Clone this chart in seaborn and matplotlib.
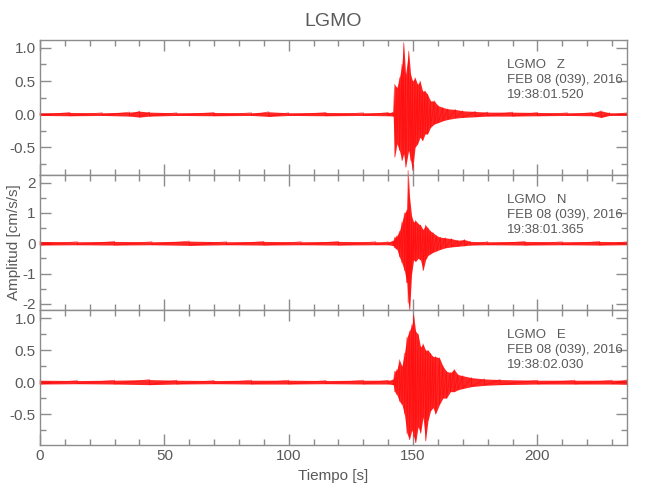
import numpy as np
import pandas as pd
import matplotlib
matplotlib.use("Agg")
import matplotlib.pyplot as plt
from matplotlib.ticker import MultipleLocator, FormatStrFormatter
import seaborn as sns

# Envelope of each trace (time in s, peak up / peak down)
z_t = [0, 12, 25, 36, 40, 44, 55, 70, 85, 92, 100, 115, 130, 140, 142.0, 142.6, 143.5, 144.5,
       145.5, 146.2, 147.0, 148.2, 149.0, 149.8, 150.8, 151.8, 152.8, 153.8, 154.8, 155.8,
       157.0, 158.5, 160.0, 162.0, 164.0, 167.0, 170.0, 175.0, 180.0, 190.0, 200.0, 212.0,
       222.0, 225.6, 229.0, 236.0]
z_up = [0.02, 0.025, 0.02, 0.03, 0.045, 0.03, 0.02, 0.025, 0.02, 0.035, 0.02, 0.025, 0.02,
        0.025, 0.03, 0.45, 0.4, 0.55, 0.75, 1.08, 0.6, 0.95, 0.6, 0.5, 0.55, 0.45, 0.5, 0.35,
        0.35, 0.3, 0.2, 0.2, 0.13, 0.1, 0.08, 0.07, 0.05, 0.04, 0.03, 0.03, 0.025, 0.02,
        0.025, 0.05, 0.02, 0.02]
z_lo = [-0.02, -0.025, -0.02, -0.03, -0.045, -0.03, -0.02, -0.025, -0.02, -0.035, -0.02,
        -0.025, -0.02, -0.025, -0.03, -0.65, -0.45, -0.55, -0.7, -0.6, -0.8, -0.55, -0.7,
        -0.85, -0.5, -0.45, -0.35, -0.4, -0.3, -0.3, -0.2, -0.15, -0.13, -0.1, -0.08, -0.06,
        -0.05, -0.04, -0.03, -0.03, -0.025, -0.02, -0.025, -0.05, -0.02, -0.02]

n_t = [0, 15, 30, 45, 60, 75, 90, 105, 120, 135, 140, 142.0, 142.6, 143.5, 144.5, 145.5,
       146.5, 147.5, 148.0, 148.6, 149.4, 150.2, 151.0, 152.0, 153.0, 154.0, 155.0, 156.0,
       157.0, 158.0, 159.5, 161.0, 163.0, 165.5, 168.0, 170.7, 173.0, 180.0, 195.0, 210.0,
       225.0, 236.0]
n_up = [0.06, 0.05, 0.06, 0.05, 0.07, 0.05, 0.06, 0.05, 0.06, 0.05, 0.05, 0.08, 0.2, 0.25,
        0.4, 0.7, 1.0, 1.1, 2.4, 1.5, 0.9, 0.7, 0.75, 0.65, 0.6, 0.45, 0.6, 0.5, 0.4, 0.35,
        0.25, 0.2, 0.18, 0.15, 0.1, 0.12, 0.06, 0.05, 0.06, 0.05, 0.06, 0.05]
n_lo = [-0.06, -0.05, -0.06, -0.05, -0.07, -0.05, -0.06, -0.05, -0.06, -0.05, -0.05, -0.08,
        -0.15, -0.2, -0.45, -0.65, -0.9, -1.3, -1.95, -2.2, -1.0, -0.55, -0.6, -0.5, -0.55,
        -0.9, -0.55, -0.4, -0.35, -0.3, -0.25, -0.2, -0.15, -0.12, -0.1, -0.08, -0.06, -0.05,
        -0.06, -0.05, -0.06, -0.05]

e_t = [0, 15, 30, 44, 55, 70, 85, 100, 115, 130, 140, 142.0, 142.6, 143.5, 144.5, 145.5,
       146.5, 147.5, 148.5, 149.5, 150.2, 151.0, 152.0, 153.0, 154.0, 155.0, 156.0, 157.0,
       158.0, 159.0, 160.6, 162.0, 163.4, 165.0, 166.5, 168.0, 170.0, 173.5, 178.7, 185.0,
       200.0, 215.0, 230.0, 236.0]
e_up = [0.03, 0.025, 0.03, 0.04, 0.03, 0.025, 0.03, 0.03, 0.025, 0.03, 0.03, 0.04, 0.17, 0.2,
        0.35, 0.25, 0.45, 0.7, 0.8, 0.9, 1.05, 0.8, 0.75, 0.55, 0.6, 0.5, 0.5, 0.45, 0.4, 0.4,
        0.38, 0.25, 0.17, 0.15, 0.2, 0.12, 0.1, 0.07, 0.05, 0.04, 0.03, 0.03, 0.03, 0.035]
e_lo = [-0.03, -0.025, -0.03, -0.04, -0.03, -0.025, -0.03, -0.03, -0.025, -0.03, -0.03,
        -0.04, -0.15, -0.2, -0.3, -0.35, -0.5, -0.8, -0.9, -0.75, -0.85, -0.95, -0.7, -0.8,
        -0.55, -0.92, -0.6, -0.45, -0.4, -0.5, -0.35, -0.25, -0.25, -0.15, -0.15, -0.12,
        -0.1, -0.07, -0.05, -0.04, -0.03, -0.03, -0.03, -0.035]

components = ["Z", "N", "E"]
start_times = ["19:38:01.520", "19:38:01.365", "19:38:02.030"]
date_label = "FEB 08 (039), 2016"
station = "LGMO"
ylims = [(-0.92, 1.12), (-2.2, 2.25), (-0.985, 1.13)]

traces = [(z_t, z_up, z_lo), (n_t, n_up, n_lo), (e_t, e_up, e_lo)]

sns.set_theme(style="white")
plt.rcParams["font.family"] = ["Liberation Sans", "DejaVu Sans"]
gray = "#8c8c8c"
tgray = "#5a5a5a"

fig, axes = plt.subplots(3, 1, figsize=(6.5, 5), dpi=100, sharex=True)
fig.subplots_adjust(left=40 / 650, right=627 / 650, top=1 - 40 / 500, bottom=1 - 445 / 500,
                    hspace=0)

for i, ax in enumerate(axes):
    t, up, lo = traces[i]
    ax.fill_between(t, lo, up, color="#ff0000", alpha=0.85, lw=0, clip_on=False)
    zig = pd.DataFrame({"t": np.repeat(t, 2),
                        "amp": np.column_stack([up, lo]).ravel()})
    sns.lineplot(data=zig, x="t", y="amp", ax=ax, estimator=None, sort=False,
                 color="#ff0000", lw=0.6, alpha=0.6, clip_on=False)
    ax.set_xlim(0, 236)
    ax.set_ylim(*ylims[i])
    ax.set_xlabel("")
    ax.set_ylabel("")
    for s in ax.spines.values():
        s.set_color(gray)
        s.set_linewidth(1.0)
    ax.xaxis.set_major_locator(MultipleLocator(50))
    ax.xaxis.set_minor_locator(MultipleLocator(10))
    if i == 1:
        ax.yaxis.set_major_locator(MultipleLocator(1))
        ax.yaxis.set_minor_locator(MultipleLocator(0.5))
        ax.yaxis.set_major_formatter(FormatStrFormatter("%d"))
    else:
        ax.yaxis.set_major_locator(MultipleLocator(0.5))
        ax.yaxis.set_minor_locator(MultipleLocator(0.25))
        ax.yaxis.set_major_formatter(FormatStrFormatter("%.1f"))
    ax.tick_params(which="both", direction="in", top=True, right=True, bottom=True,
                   left=True, color=gray, labelcolor=tgray, labelsize=11, width=1)
    ax.tick_params(which="major", length=8, pad=3)
    ax.tick_params(which="minor", length=4)
    ax.text(0.796, 0.815, f"{station}   {components[i]}", transform=ax.transAxes,
            color=tgray, fontsize=9.5, va="center", ha="left")
    ax.text(0.796, 0.704, date_label, transform=ax.transAxes,
            color=tgray, fontsize=9.5, va="center", ha="left")
    ax.text(0.796, 0.593, start_times[i], transform=ax.transAxes,
            color=tgray, fontsize=9.5, va="center", ha="left")

axes[-1].set_xlabel("Tiempo [s]", color=tgray, fontsize=11)
fig.text(0.022, (500 - 242) / 500, "Amplitud [cm/s/s]", rotation=90, color=tgray,
         fontsize=11, ha="center", va="center")
fig.text((40 + 627) / 2 / 650, 1 - 22 / 500, station, color=tgray, fontsize=14,
         ha="center", va="center")

fig.savefig("out.png", dpi=100)
